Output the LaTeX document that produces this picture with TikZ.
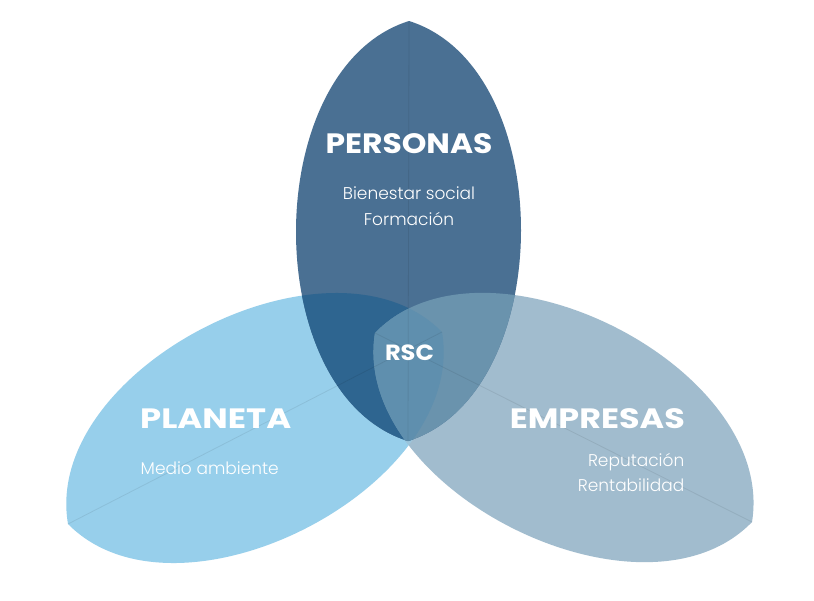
\documentclass[tikz,border=0pt]{standalone}
\usepackage{fontspec}
\setmainfont{Poppins}
\newfontfamily\lightfont{Poppins Light}
\definecolor{cL}{HTML}{97CFEB}
\definecolor{cT}{HTML}{4A7093}
\definecolor{cR}{HTML}{A1BCCE}
\definecolor{cLT}{HTML}{2E6590}
\definecolor{cTR}{HTML}{6A93AD}
\definecolor{cLTR}{HTML}{5F8FAE}
\definecolor{cLR}{HTML}{9BC5DC}
\tikzset{
  title/.style={inner sep=0pt, text=white, font=\bfseries\fontsize{28}{30}\selectfont},
  sub/.style={inner sep=0pt, text=white, font=\lightfont\fontsize{17}{20}\selectfont},
  axisline/.style={draw=black, draw opacity=0.08, line width=0.8pt}
}
\newcommand\fitwd[2]{\resizebox{#1pt}{\height}{#2}}
\def\lensT{(409,21) .. controls (559,68) and (558,394) .. (408,441) .. controls (258,394) and (259,68) .. (409,21) -- cycle}
\def\lensL{(68,524) .. controls (41.4,369.1) and (331.6,220.1) .. (442,332) .. controls (468.6,486.9) and (178.4,635.9) .. (68,524) -- cycle}
\def\lensR{(752,522) .. controls (777.2,366.3) and (484.6,219.7) .. (375,333) .. controls (349.8,488.7) and (642.4,635.3) .. (752,522) -- cycle}
\begin{document}
\begin{tikzpicture}[x=1pt,y=-1pt]
\useasboundingbox (0,0) rectangle (814,600);
\fill[white] (0,0) rectangle (814,600);
% tips
\coordinate (T1) at (409,21); \coordinate (T2) at (408,441);
\coordinate (L1) at (68,524); \coordinate (L2) at (442,332);
\coordinate (R1) at (752,522); \coordinate (R2) at (375,333);
% base fills
\fill[cL] \lensL;
\fill[cR] \lensR;
\begin{scope}\clip \lensL; \fill[cLR] \lensR; \end{scope}
\fill[cT] \lensT;
% overlaps
\begin{scope}\clip \lensT; \fill[cLT] \lensL; \end{scope}
\begin{scope}\clip \lensT; \fill[cTR] \lensR; \end{scope}
\begin{scope}\clip \lensT; \clip \lensR; \fill[cLTR] \lensL; \end{scope}
% faint axes
\draw[axisline] (T1) -- (T2);
\draw[axisline] (L1) -- (L2);
\draw[axisline] (R1) -- (R2);
% texts
\node[title, anchor=base] (personas) at (409,153) {\fitwd{167}{PERSONAS}};
\node[sub, anchor=base] (bien) at (409,199.5) {Bienestar social};
\node[sub, anchor=base] (form) at (409,225) {Formación};
\node[title, anchor=base, font=\bfseries\fontsize{22}{26}\selectfont] (rsc) at (409.5,360.7) {\fitwd{49}{RSC}};
\node[title, anchor=base west] (planeta) at (140,428.3) {\fitwd{151}{PLANETA}};
\node[sub, anchor=base west] (medio) at (140.5,474) {Medio ambiente};
\node[title, anchor=base east] (empresas) at (685,428.3) {\fitwd{175}{EMPRESAS}};
\node[sub, anchor=base east] (reput) at (684.5,466.7) {Reputación};
\node[sub, anchor=base east] (rent) at (684.5,491) {Rentabilidad};
\end{tikzpicture}
\end{document}
